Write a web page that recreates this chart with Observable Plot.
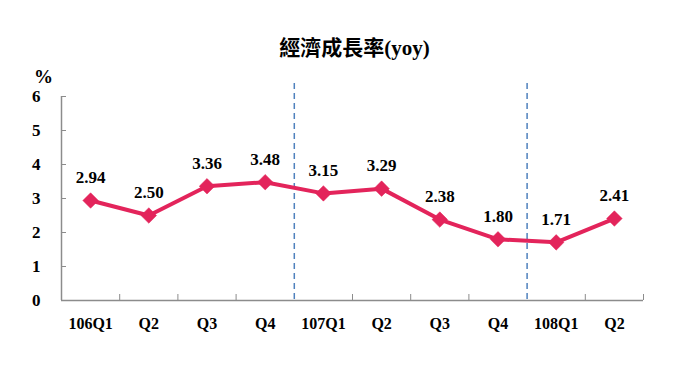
<!DOCTYPE html>
<html><head><meta charset="utf-8">
<script src="https://cdn.jsdelivr.net/npm/d3@7"></script>
<script src="https://cdn.jsdelivr.net/npm/@observablehq/plot@0.6"></script>
<style>
html,body{margin:0;padding:0;background:#fff;}
#chart svg text{font-family:'Liberation Serif','Noto Sans CJK TC',serif !important;font-weight:bold;}
</style>
</head><body>
<div id="chart"></div>
<script>
const title = "經濟成長率(yoy)";
const unit = "%";
const quarters = ["106Q1","Q2","Q3","Q4","107Q1","Q2","Q3","Q4","108Q1","Q2"];
const growth = [2.94, 2.50, 3.36, 3.48, 3.15, 3.29, 2.38, 1.80, 1.71, 2.41];
const yTicks = [0,1,2,3,4,5,6];
const yearBreaks = [4, 8];

const data = quarters.map((q, i) => ({i: i + 0.5, q, v: growth[i]}));
const boundaries = d3.range(1, quarters.length + 1).filter(b => !yearBreaks.includes(b));
const lineColor = "#e3245b";
const axisColor = "#8c8c8c";
const serif = "'Liberation Serif','Noto Sans CJK TC',serif";

const chart = Plot.plot({
  width: 680, height: 383,
  marginTop: 96, marginBottom: 83, marginLeft: 61, marginRight: 37,
  style: {fontFamily: serif, fontWeight: "bold", fontSize: "16px", color: "#000", background: "#fff"},
  x: {domain: [0, quarters.length]},
  y: {domain: [0, 6]},
  marks: [
    Plot.ruleX(yearBreaks, {stroke: "#4f81bd", strokeWidth: 1.5, strokeDasharray: "6,4", insetTop: -13}),
    Plot.ruleY([0], {stroke: axisColor, strokeWidth: 1.5}),
    Plot.ruleX([0], {stroke: axisColor, strokeWidth: 1.5}),
    Plot.axisY({ticks: yTicks, tickSize: -5, stroke: axisColor, tickPadding: 26, label: null, fontSize: 17, fontFamily: serif, tickFormat: d => String(d)}),
    Plot.axisX({ticks: boundaries, tickSize: -6, stroke: axisColor, tickFormat: () => "", label: null}),
    Plot.axisX({ticks: data.map(d => d.i), tickSize: 0, tickPadding: 17, label: null, fontSize: 16, fontFamily: serif,
      tickFormat: (d) => quarters[Math.round(d - 0.5)]}),
    Plot.line(data, {x: "i", y: "v", stroke: lineColor, strokeWidth: 4}),
    Plot.dot(data, {x: "i", y: "v", symbol: "diamond2", r: 7, fill: lineColor, stroke: lineColor, strokeWidth: 0.5}),
    Plot.text(data, {x: "i", y: "v", text: d => d.v.toFixed(2), dy: -23, fontSize: 17, fontWeight: "bold", fontFamily: serif}),
    Plot.text([title], {frameAnchor: "top", dx: 2, dy: -56, fontSize: 21, fontWeight: "bold", fontFamily: serif}),
    Plot.text([unit], {frameAnchor: "top-left", textAnchor: "middle", dx: -18, dy: -27, fontSize: 19, fontWeight: "bold", fontFamily: serif})
  ]
});
document.getElementById("chart").appendChild(chart);
</script>
</body></html>
